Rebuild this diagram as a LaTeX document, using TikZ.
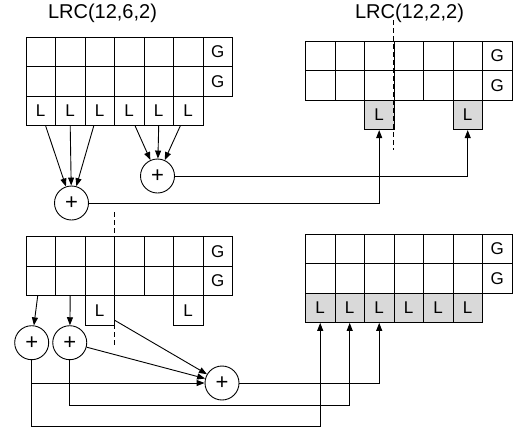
\documentclass[tikz,border=0pt]{standalone}
\usepackage{fontspec}
\setmainfont{Liberation Sans}
\usetikzlibrary{arrows.meta,calc}
\begin{document}
\begin{tikzpicture}[x=1pt,y=-1pt,
  cell/.style={draw, line width=0.9pt, minimum size=29.5pt, inner sep=0pt, anchor=north west, font=\fontsize{17}{17}\selectfont},
  gcell/.style={cell, fill=black!15},
  plus/.style={circle, draw, line width=0.9pt, minimum size=34pt, inner sep=0pt, font=\fontsize{22}{22}\selectfont},
  conn/.style={line width=0.9pt},
  arr/.style={conn, -{Triangle[length=8pt,width=6pt]}},
  cut/.style={line width=0.9pt, dash pattern=on 5pt off 3pt},
  lbl/.style={font=\fontsize{20}{20}\selectfont, inner sep=0pt}]
\useasboundingbox (0,0) rectangle (513,431);

% labels
\node[lbl] (lab1) at (102.5,13) {LRC(12,6,2)};
\node[lbl] (lab2) at (409.5,13) {LRC(12,2,2)};

% top rows of the four grids
\foreach \p/\x/\y in {tl/25.5/36.7, tr/305/40.7, bl/25.5/236, br/305/233.5}{
  \foreach \r in {1,2}{
    \foreach \c in {1,...,7}{
      \node[cell] (\p-\r-\c) at ({\x+(\c-1)*29.5},{\y+(\r-1)*29.5}) {\ifnum\c=7 G\fi};
    }
  }
}
% local parity rows
\foreach \c in {1,...,6}{
  \node[cell] (tl-3-\c) at ({25.5+(\c-1)*29.5},95.7) {L};
  \node[gcell] (br-3-\c) at ({305+(\c-1)*29.5},292.5) {L};
}
\foreach \c in {3,6}{
  \node[gcell] (tr-3-\c) at ({305+(\c-1)*29.5},99.7) {L};
  \node[cell] (bl-3-\c) at ({25.5+(\c-1)*29.5},295) {L};
}

% dashed cut lines
\coordinate (d1a) at (393.5,20);
\coordinate (d1b) at (393.5,150);
\coordinate (d2a) at (114,212);
\coordinate (d2b) at (114,346);
\draw[cut] (d1a) -- (d1b);
\draw[cut] (d2a) -- (d2b);

% XOR nodes
\node[plus] (p1) at (71.5,203) {+};
\node[plus] (p2) at (157.5,176) {+};
\node[plus] (p3) at (31.7,342.7) {+};
\node[plus] (p4) at (69.75,342.7) {+};
\node[plus] (p5) at (222,383) {+};

% top-left group arrows
\coordinate (s1) at ($(tl-3-1.south)+(5,0)$);
\coordinate (s2) at (tl-3-2.south);
\coordinate (s3) at ($(tl-3-3.south)+(-6,0)$);
\coordinate (s4) at ($(tl-3-4.south)+(6,0)$);
\coordinate (s5) at (tl-3-5.south);
\coordinate (s6) at ($(tl-3-6.south)+(-8,0)$);
\foreach \s in {s1,s2,s3}{\draw[arr] (\s) -- (p1);}
\foreach \s in {s4,s5,s6}{\draw[arr] (\s) -- (p2);}

\draw[arr] (p2.east) -| (tr-3-6.south);
\draw[arr] (p1.east) -| (tr-3-3.south);

% bottom-left arrows
\coordinate (b1) at ($(bl-2-1.south)+(-3,0)$);
\coordinate (b2) at (bl-2-2.south);
\coordinate (b3) at ($(bl-3-3.south east)+(0,-5)$);
\draw[arr] (b1) -- (p3);
\draw[arr] (b2) -- (p4);
\draw[arr] (b3) -- (p5);
\draw[arr] (p4) -- (p5);
\draw[arr] (p3.south) |- (p5.west);

\coordinate (q1) at (br-3-1.south |- 0,426);
\coordinate (q2) at (br-3-2.south |- 0,405);
\draw[arr] (p3.south) |- (q1) -- (br-3-1.south);
\draw[arr] (p4.south) |- (q2) -- (br-3-2.south);
\draw[arr] (p5.east) -| (br-3-3.south);
\end{tikzpicture}
\end{document}
